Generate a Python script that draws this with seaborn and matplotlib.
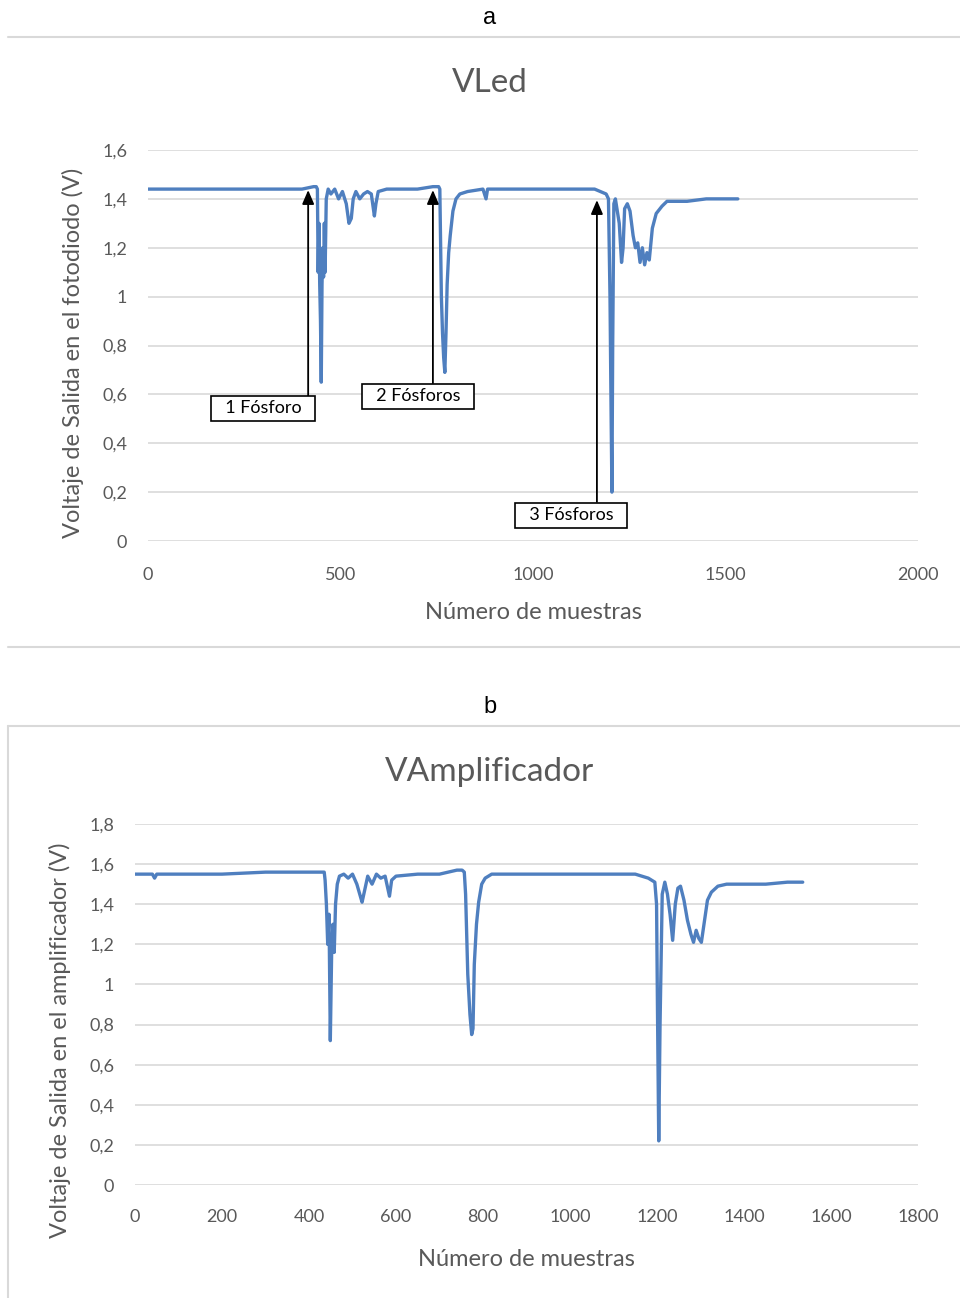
import matplotlib
matplotlib.use("Agg")
import matplotlib.pyplot as plt
import seaborn as sns
import pandas as pd
from matplotlib.lines import Line2D
from matplotlib.ticker import FuncFormatter

# ---------------- data ----------------
vled_x = [0, 100, 200, 300, 400, 430, 437, 440, 442, 444, 446, 448, 450, 452, 454, 456, 458, 460,
          463, 468, 475, 485, 495, 505, 515, 522, 528, 533, 540, 550, 560, 570, 580, 588, 592, 598,
          620, 700, 740, 755, 758, 762, 765, 768, 771, 774, 777, 781, 785, 792, 800, 810, 830, 870,
          878, 882, 950, 1050, 1130, 1160, 1175, 1190, 1196, 1200, 1203, 1205, 1207, 1210, 1214,
          1218, 1224, 1230, 1234, 1238, 1245, 1252, 1260, 1266, 1272, 1278, 1284, 1290, 1296, 1302,
          1310, 1320, 1335, 1348, 1400, 1450, 1500, 1532]
vled_y = [1.44, 1.44, 1.44, 1.44, 1.44, 1.45, 1.45, 1.44, 1.10, 1.30, 1.05, 0.90, 0.65, 1.05, 1.20,
          1.08, 1.30, 1.10, 1.40, 1.44, 1.42, 1.44, 1.40, 1.43, 1.38, 1.30, 1.32, 1.40, 1.43, 1.40,
          1.42, 1.43, 1.42, 1.33, 1.38, 1.43, 1.44, 1.44, 1.45, 1.45, 1.44, 1.00, 0.85, 0.75, 0.69,
          0.85, 1.05, 1.18, 1.25, 1.35, 1.40, 1.42, 1.43, 1.44, 1.40, 1.44, 1.44, 1.44, 1.44, 1.44,
          1.43, 1.42, 1.40, 1.00, 0.50, 0.20, 0.80, 1.38, 1.40, 1.36, 1.30, 1.14, 1.20, 1.36, 1.38,
          1.35, 1.25, 1.20, 1.22, 1.14, 1.20, 1.13, 1.18, 1.15, 1.28, 1.34, 1.37, 1.39, 1.39, 1.40,
          1.40, 1.40]

vamp_x = [0, 40, 45, 50, 200, 300, 420, 435, 437, 440, 443, 446, 449, 452, 455, 458, 461, 465, 470,
          480, 490, 500, 510, 518, 522, 528, 535, 545, 555, 565, 575, 585, 590, 600, 650, 700, 740,
          752, 757, 760, 765, 770, 774, 777, 780, 785, 790, 797, 805, 820, 870, 900, 1000, 1100,
          1150, 1180, 1195, 1199, 1201, 1204, 1207, 1212, 1218, 1224, 1230, 1236, 1242, 1248, 1254,
          1262, 1270, 1278, 1284, 1290, 1296, 1302, 1308, 1316, 1325, 1340, 1360, 1400, 1450, 1500,
          1520, 1535]
vamp_y = [1.55, 1.55, 1.53, 1.55, 1.55, 1.56, 1.56, 1.56, 1.52, 1.40, 1.20, 1.35, 0.72, 1.15, 1.30,
          1.16, 1.40, 1.50, 1.54, 1.55, 1.53, 1.55, 1.50, 1.44, 1.41, 1.47, 1.54, 1.50, 1.55, 1.53,
          1.54, 1.44, 1.52, 1.54, 1.55, 1.55, 1.57, 1.57, 1.56, 1.45, 1.05, 0.85, 0.75, 0.78, 1.10,
          1.30, 1.41, 1.50, 1.53, 1.55, 1.55, 1.55, 1.55, 1.55, 1.55, 1.53, 1.51, 1.40, 0.90, 0.22,
          0.80, 1.45, 1.51, 1.45, 1.35, 1.22, 1.40, 1.48, 1.49, 1.42, 1.32, 1.25, 1.21, 1.27, 1.23,
          1.21, 1.30, 1.42, 1.46, 1.49, 1.50, 1.50, 1.50, 1.51, 1.51, 1.51]

vled_yticks = [0, 0.2, 0.4, 0.6, 0.8, 1.0, 1.2, 1.4, 1.6]
vled_xticks = [0, 500, 1000, 1500, 2000]
vamp_yticks = [0, 0.2, 0.4, 0.6, 0.8, 1.0, 1.2, 1.4, 1.6, 1.8]
vamp_xticks = [0, 200, 400, 600, 800, 1000, 1200, 1400, 1600, 1800]

annot_labels = ["1 Fósforo", "2 Fósforos", "3 Fósforos"]
annot_arrow_x = [416, 740, 1166]
annot_tip_y = [1.436, 1.436, 1.395]
annot_base_y = [0.593, 0.646, 0.16]
annot_text_x = [299, 701, 1099]
annot_text_y = [0.544, 0.593, 0.106]

# ---------------- style ----------------
sns.set_theme(style="white")
plt.rcParams["font.family"] = ["Lato", "DejaVu Sans"]

LINE = "#4F7FBF"
GRAY = "#595959"
GRID = "#d9d9d9"

fig = plt.figure(figsize=(9.6, 12.98), dpi=100)

def comma(v, pos):
    s = ("%.1f" % v).rstrip("0").rstrip(".")
    return s.replace(".", ",")

def style_axes(ax, xticks, yticks, xpad, ypad):
    ax.set_xticks(xticks)
    ax.set_yticks(yticks)
    ax.set_xlim(xticks[0], xticks[-1])
    ax.set_ylim(yticks[0], yticks[-1])
    ax.yaxis.set_major_formatter(FuncFormatter(comma))
    ax.grid(axis="y", color=GRID, linewidth=1.2)
    ax.grid(axis="x", visible=False)
    for s in ax.spines.values():
        s.set_visible(False)
    ax.tick_params(axis="x", length=0, pad=xpad, labelsize=13, labelcolor=GRAY)
    ax.tick_params(axis="y", length=0, pad=ypad, labelsize=13, labelcolor=GRAY)
    ax.set_axisbelow(True)

# ---------------- chart a ----------------
ax1 = fig.add_axes([148/960, 1-541/1298, 770/960, 391/1298])
df1 = pd.DataFrame({"x": vled_x, "y": vled_y})
sns.lineplot(data=df1, x="x", y="y", ax=ax1, color=LINE, linewidth=2.4, estimator=None, sort=False)
style_axes(ax1, vled_xticks, vled_yticks, 18.5, 15)
ax1.set_xlabel("Número de muestras", fontsize=17, color=GRAY)
ax1.set_ylabel("Voltaje de Salida en el fotodiodo (V)", fontsize=17, color=GRAY)
ax1.xaxis.set_label_coords(0.5, -0.157)
ax1.yaxis.set_label_coords(-0.083, 0.482)

for lab, ax_, ty, by, tx, tyt in zip(annot_labels, annot_arrow_x, annot_tip_y, annot_base_y,
                                     annot_text_x, annot_text_y):
    ax1.annotate("", xy=(ax_, ty), xytext=(ax_, by),
                 arrowprops=dict(arrowstyle="-|>,head_length=0.7,head_width=0.3",
                                 color="black", lw=1.3, shrinkA=0, shrinkB=0))
    ax1.text(tx, tyt, "  " + lab + "  ", ha="center", va="center", fontsize=13, color="black",
             bbox=dict(boxstyle="square,pad=0.25", fc="white", ec="black", lw=1.2))

# ---------------- chart b ----------------
ax2 = fig.add_axes([135/960, 1-1185/1298, 783/960, 361/1298])
df2 = pd.DataFrame({"x": vamp_x, "y": vamp_y})
sns.lineplot(data=df2, x="x", y="y", ax=ax2, color=LINE, linewidth=2.4, estimator=None, sort=False)
style_axes(ax2, vamp_xticks, vamp_yticks, 17.5, 15)
ax2.set_xlabel("Número de muestras", fontsize=17, color=GRAY)
ax2.set_ylabel("Voltaje de Salida en el amplificador (V)", fontsize=17, color=GRAY)
ax2.xaxis.set_label_coords(0.5, -0.177)
ax2.yaxis.set_label_coords(-0.082, 0.40)

# ---------------- titles & frames ----------------
fig.text(490/960, 1-18/1298, "a", ha="center", va="center", fontsize=17,
         family=["Liberation Sans", "DejaVu Sans"], color="black")
fig.text(490/960, 1-707/1298, "b", ha="center", va="center", fontsize=17,
         family=["Liberation Sans", "DejaVu Sans"], color="black")
fig.text(490/960, 1-83/1298, "VLed", ha="center", va="center", fontsize=24, color=GRAY)
fig.text(490/960, 1-772/1298, "VAmplificador", ha="center", va="center", fontsize=24, color=GRAY)

for (x0, y0, x1, y1) in [(8, 37, 960, 37), (8, 647, 960, 647), (8, 726, 960, 726), (8, 726, 8, 1298)]:
    fig.add_artist(Line2D([x0/960, x1/960], [1-y0/1298, 1-y1/1298], transform=fig.transFigure,
                          color=GRID, linewidth=1.5))

fig.savefig("out.png", dpi=100)
